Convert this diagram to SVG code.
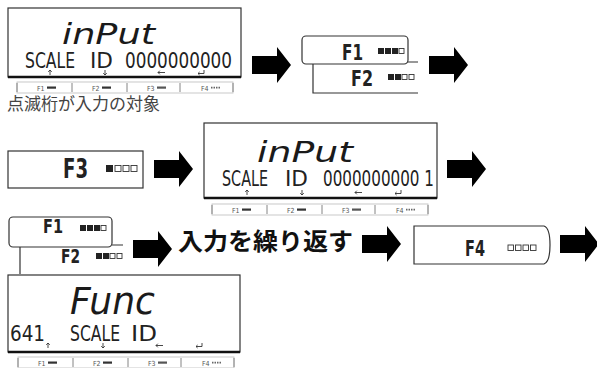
<svg xmlns="http://www.w3.org/2000/svg" xmlns:xlink="http://www.w3.org/1999/xlink" width="597" height="368" viewBox="0 0 597 368">
<style>
.lcd{fill:#fff;stroke:#333;stroke-width:1.2}
.lcdb{stroke:#111;stroke-width:2.5}
.big{font-family:"DejaVu Sans",sans-serif;font-style:oblique;fill:#1a1a1a}
.seg{font-family:"DejaVu Sans Condensed","DejaVu Sans",sans-serif;fill:#222}
.key{font-family:"DejaVu Sans Condensed","DejaVu Sans",sans-serif;font-weight:bold;fill:#222}
.kbox{fill:#fff;stroke:#333;stroke-width:1.2}
.kline{fill:none;stroke:#333;stroke-width:1.2}
.fb{font-family:"DejaVu Sans Condensed","DejaVu Sans",sans-serif;font-size:7px;fill:#555}
.mk{fill:none;stroke:#333;stroke-width:0.9}
.ind{fill:#222}
.indo{fill:#fff;stroke:#333;stroke-width:0.9}
.arr{fill:#000}
</style>
<defs>
<path id="arr" d="M0,9 H25 V0 L39,18 L25,36 V27 H0 Z"/>
<g id="marks">
<path class="mk" d="M0,5 V0 M-1.8,1.8 L0,0 L1.8,1.8"/>
<path class="mk" d="M55,0 V5 M53.2,3.2 L55,5 L56.8,3.2"/>
<path class="mk" d="M115,2.5 H108 M109.8,0.7 L108,2.5 L109.8,4.3"/>
<path class="mk" d="M154,0 V3.5 H148 M149.6,2 L148,3.5 L149.6,5"/>
</g>
<g id="fbar">
<rect x="0" y="0" width="216" height="11" fill="none" stroke="#bbb" stroke-width="0.8"/>
<path d="M0,1 V10 M55,1 V10 M110,1 V10 M163,1 V10 M216,1 V10" stroke="#777" stroke-width="0.9"/>
<text class="fb" x="20" y="8.5">F1</text>
<rect x="30" y="4.5" width="9" height="2.2" fill="#333"/>
<text class="fb" x="75" y="8.5">F2</text>
<rect x="85" y="4.5" width="9" height="2.2" fill="#333"/>
<text class="fb" x="130" y="8.5">F3</text>
<rect x="140" y="4.5" width="9" height="2.2" fill="#555"/>
<text class="fb" x="184" y="8.5">F4</text>
<path d="M194,5.6 H204" stroke="#666" stroke-width="1.6" stroke-dasharray="1.5,1"/>
</g>
</defs>

<g id="lcd1">
<rect class="lcd" x="8" y="8" width="233" height="69"/>
<line class="lcdb" x1="8" y1="77" x2="241" y2="77"/>
<text class="big" x="62" y="44" font-size="29" textLength="93" lengthAdjust="spacingAndGlyphs">inPut</text>
<text class="seg" x="25" y="68" font-size="21" textLength="50" lengthAdjust="spacingAndGlyphs">SCALE</text>
<text class="seg" x="90" y="68" font-size="21" textLength="23" lengthAdjust="spacingAndGlyphs">ID</text>
<text class="seg" x="125" y="68" font-size="21" textLength="107" lengthAdjust="spacingAndGlyphs">0000000000</text>
<use xlink:href="#marks" x="50" y="70"/>
<use xlink:href="#fbar" x="17" y="82"/>
</g>

<text id="note" x="7" y="110" font-family="'Noto Sans CJK JP',sans-serif" font-size="17" fill="#444">点滅桁が入力の対象</text>

<g id="keys1">
<path class="kline" d="M313,62 V93 H418 M407,62 H418"/>
<rect class="kbox" x="302" y="36" width="106" height="28" rx="4"/>
<text class="key" x="342" y="60" font-size="22" textLength="21" lengthAdjust="spacingAndGlyphs">F1</text>
<rect class="ind" x="378" y="48" width="6" height="6"/><rect class="ind" x="385" y="48" width="6" height="6"/><rect class="ind" x="392" y="48" width="6" height="6"/><rect class="indo" x="399" y="48.5" width="5" height="5"/>
<text class="key" x="351" y="86" font-size="22" textLength="22" lengthAdjust="spacingAndGlyphs">F2</text>
<rect class="ind" x="388" y="74" width="6" height="6"/><rect class="ind" x="395" y="74" width="6" height="6"/><rect class="indo" x="402" y="74.5" width="5" height="5"/><rect class="indo" x="409" y="74.5" width="5" height="5"/>
</g>

<g id="keyF3">
<rect class="kbox" x="8" y="151" width="135" height="37"/>
<text class="key" x="63" y="178" font-size="27" textLength="25" lengthAdjust="spacingAndGlyphs">F3</text>
<rect class="ind" x="106" y="165" width="7" height="7"/><rect class="indo" x="115" y="165.5" width="6" height="6"/><rect class="indo" x="123" y="165.5" width="6" height="6"/><rect class="indo" x="131" y="165.5" width="6" height="6"/>
</g>

<g id="lcd2">
<rect class="lcd" x="204" y="123" width="233" height="75"/>
<line class="lcdb" x1="204" y1="198" x2="437" y2="198"/>
<text class="big" x="257" y="162" font-size="29" textLength="96" lengthAdjust="spacingAndGlyphs">inPut</text>
<text class="seg" x="222" y="186" font-size="21" textLength="46" lengthAdjust="spacingAndGlyphs">SCALE</text>
<text class="seg" x="285" y="186" font-size="21" textLength="23" lengthAdjust="spacingAndGlyphs">ID</text>
<text class="seg" x="323" y="186" font-size="21" textLength="111" lengthAdjust="spacingAndGlyphs">0000000000 1</text>
<use xlink:href="#marks" x="247" y="190"/>
<use xlink:href="#fbar" x="212" y="204"/>
</g>

<g id="keys2">
<path class="kline" d="M20,245 V274 M112,245 H123"/>
<rect class="kbox" x="9" y="217" width="103" height="30" rx="4"/>
<text class="key" x="43" y="233" font-size="19" textLength="20" lengthAdjust="spacingAndGlyphs">F1</text>
<rect class="ind" x="80" y="225" width="6" height="6"/><rect class="ind" x="87" y="225" width="6" height="6"/><rect class="ind" x="94" y="225" width="6" height="6"/><rect class="indo" x="101" y="225.5" width="5" height="5"/>
<text class="key" x="61" y="263" font-size="19" textLength="19" lengthAdjust="spacingAndGlyphs">F2</text>
<rect class="ind" x="96" y="253" width="6" height="6"/><rect class="ind" x="103" y="253" width="6" height="6"/><rect class="indo" x="110" y="253.5" width="5" height="5"/><rect class="indo" x="117" y="253.5" width="5" height="5"/>
</g>

<text id="repeat" x="178" y="250" font-family="'Noto Sans CJK JP',sans-serif" font-weight="bold" font-size="24" textLength="175" lengthAdjust="spacingAndGlyphs" fill="#111">入力を繰り返す</text>

<g id="keyF4">
<path class="kbox" d="M414,226 H544 Q550,228 550,245 Q550,262 544,264 H414 Z"/>
<text class="key" x="465" y="256" font-size="21" textLength="20" lengthAdjust="spacingAndGlyphs">F4</text>
<rect class="indo" x="508" y="245" width="5.5" height="5.5"/><rect class="indo" x="515.5" y="245" width="5.5" height="5.5"/><rect class="indo" x="523" y="245" width="5.5" height="5.5"/><rect class="indo" x="530.5" y="245" width="5.5" height="5.5"/>
</g>

<g id="lcd3">
<rect class="lcd" x="8" y="275" width="232" height="77"/>
<line class="lcdb" x1="8" y1="352" x2="240" y2="352"/>
<text class="big" x="70" y="314" font-size="38" textLength="85" lengthAdjust="spacingAndGlyphs">Func</text>
<text class="seg" x="10" y="341" font-size="21" textLength="35" lengthAdjust="spacingAndGlyphs">641</text>
<text class="seg" x="70" y="341" font-size="21" textLength="50" lengthAdjust="spacingAndGlyphs">SCALE</text>
<text class="seg" x="131" y="341" font-size="21" textLength="26" lengthAdjust="spacingAndGlyphs">ID</text>
<use xlink:href="#marks" x="48" y="343"/>
<use xlink:href="#fbar" x="18" y="357"/>
</g>

<g id="connectors">
<use class="arr" xlink:href="#arr" x="252" y="47"/>
<use class="arr" xlink:href="#arr" x="429" y="47"/>
<use class="arr" xlink:href="#arr" x="154" y="151"/>
<use class="arr" xlink:href="#arr" x="447" y="151"/>
<use class="arr" xlink:href="#arr" x="133" y="231"/>
<use class="arr" xlink:href="#arr" x="362" y="226"/>
<use class="arr" xlink:href="#arr" x="560" y="226"/>
</g>
</svg>
